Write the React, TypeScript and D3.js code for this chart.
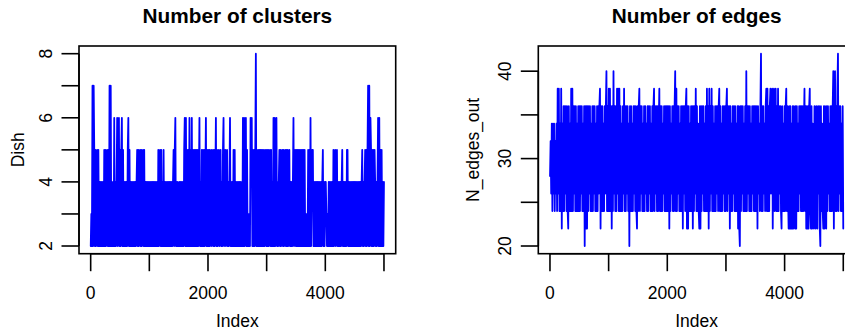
import React, { useEffect, useRef } from 'react'
import * as d3 from 'd3'

// trace of Dish, one value every ~10 iterations (index 1..5000)
const dish: number[] = [
  2,3,2,7,2,7,5,2,5,2, 4,5,2,5,2,4,2,4,2,4, 2,4,2,5,2,5,2,4,5,2, 5,2,7,2,7,2,4,2,4,2, 6,2,4,2,4,6,2,4,6,2,
  5,2,5,6,2,5,2,4,2,4, 2,4,2,5,6,2,5,2,4,2, 4,2,4,2,4,2,4,2,4,5, 2,5,2,4,5,2,5,2,4,5, 2,5,2,4,2,4,2,4,2,4,
  2,4,2,4,2,4,2,4,2,4, 2,4,2,4,2,5,2,4,5,2, 5,2,4,2,5,2,4,2,4,2, 4,2,4,2,4,2,4,2,4,2, 4,5,2,5,6,2,4,2,4,2,
  2,4,2,4,2,4,2,4,2,5, 6,2,6,2,5,2,5,2,6,2, 5,2,6,2,5,2,5,2,5,2, 5,2,5,2,4,6,2,4,2,5, 2,5,2,5,2,4,6,2,5,2,
  5,2,5,2,4,5,2,4,5,2, 5,2,4,6,2,5,2,4,5,2, 4,5,2,4,2,5,6,2,4,5, 2,4,5,2,4,2,4,6,2,4, 2,4,2,5,2,5,2,4,2,4,
  2,4,2,4,2,4,2,4,2,6, 2,6,2,5,6,2,5,2,3,2, 3,2,6,5,6,2,5,2,5,2, 5,8,2,5,2,5,2,5,2,5, 2,5,2,5,2,5,2,4,5,2,
  5,2,5,2,4,5,2,5,2,4, 2,6,2,6,2,5,6,2,4,2, 4,5,2,5,2,4,5,2,5,2, 4,5,2,5,2,5,2,4,5,2, 4,2,4,2,4,6,2,4,5,2,
  5,2,5,2,5,2,5,2,5,2, 5,2,5,2,5,2,3,2,3,2, 5,2,5,2,6,2,4,5,5,2, 4,2,4,2,4,2,4,2,4,2, 4,2,4,2,4,5,2,4,2,4,
  4,3,2,3,2,4,2,4,2,4, 2,4,2,5,2,4,5,2,4,5, 2,4,2,4,2,4,2,4,5,2, 4,2,4,2,4,2,5,5,2,4, 2,4,2,4,2,4,2,4,2,4,
  2,4,2,4,2,4,2,4,2,4, 2,4,5,2,4,2,4,5,2,5, 2,5,7,2,7,2,6,5,2,5, 2,5,2,5,4,2,4,2,4,6, 2,6,2,5,2,5,2,4,2,4,
]

// trace of N_edges_out, same sampling
const nEdgesOut: number[] = [
  28,32,26,34,24,34,26,34,24,32, 26,34,24,38,26,38,24,34,24,38, 22,34,24,36,24,36,26,36,24,36, 24,22,36,24,34,24,38,24,38,24, 36,26,36,24,36,24,34,24,36,24,
  36,24,36,26,36,24,34,24,36,20, 36,22,36,22,36,24,36,26,36,24, 34,24,36,24,36,26,36,24,34,24, 36,24,36,26,36,38,22,36,24,36, 24,34,24,36,26,36,40,24,36,24,
  38,24,38,24,36,22,36,24,40,26, 36,24,36,24,38,26,38,24,38,24, 36,24,34,24,36,26,38,24,36,24, 36,26,36,24,34,20,36,24,36,24, 34,24,36,26,36,24,36,24,22,36,
  24,36,38,24,36,26,36,24,34,24, 36,24,36,26,34,24,36,24,36,26, 36,24,34,24,36,24,36,38,24,36, 26,36,24,36,24,34,38,24,36,24, 36,24,34,26,36,24,36,24,36,24,
  36,24,36,22,36,24,34,26,36,24, 36,24,36,40,24,38,24,36,26,36, 24,34,24,36,24,36,22,36,26,36, 24,36,38,22,36,22,36,24,34,24, 36,24,36,22,36,24,36,26,38,24,
  36,24,34,24,22,36,22,36,24,36, 26,36,24,34,24,36,24,38,24,36, 22,38,24,36,26,38,24,36,24,34, 24,36,24,36,26,36,24,36,38,24, 36,24,34,24,36,26,36,24,36,24,
  36,38,24,36,26,36,22,36,24,34, 24,36,26,36,24,36,24,34,24,36, 22,36,22,20,36,24,36,26,36,24, 34,24,36,24,40,24,36,26,36,24, 36,24,34,24,36,26,36,24,36,24,
  36,24,36,22,36,26,34,24,36,42, 24,36,24,36,26,34,24,36,38,24, 38,24,36,24,36,38,26,36,38,22, 36,38,24,36,38,24,36,24,38,24, 36,26,36,24,22,36,24,34,24,36,
  24,36,38,24,36,26,22,36,22,36, 22,34,22,36,22,36,24,22,36,22, 36,24,34,24,36,26,36,24,36,24, 36,24,34,38,24,36,22,36,22,36, 22,36,38,24,22,36,22,34,24,22,
  36,24,22,36,24,22,36,26,36,22, 20,36,24,34,24,22,36,22,36,24, 22,36,24,36,26,34,24,36,24,36, 24,36,40,22,36,40,24,36,24,38, 42,24,36,26,36,24,34,24,36,22,
]

const xTicks = [0, 1000, 2000, 3000, 4000, 5000]
const xTickLabels = [0, 2000, 4000]
const dishTicks = [2, 3, 4, 5, 6, 7, 8]
const dishTickLabels = [2, 4, 6, 8]
const edgeTicks = [20, 25, 30, 35, 40]
const edgeTickLabels = [20, 30, 40]

function App() {
  const svgRef = useRef<SVGSVGElement>(null)
  const width = 845
  const height = 332
  const font = '"Liberation Sans", Arial, Helvetica, sans-serif'

  useEffect(() => {
    const svg = d3.select(svgRef.current)
    svg.selectAll('*').remove()

    const top = 46
    const bottom = 253.7
    const tickLen = 17.5

    const panels = [
      { values: dish, left: 79, right: 395.7, title: 'Number of clusters', ylab: 'Dish',
        yTicks: dishTicks, yLabels: dishTickLabels, ylabX: 24, tickLabX: 52 },
      { values: nEdgesOut, left: 538.3, right: 855, title: 'Number of edges', ylab: 'N_edges_out',
        yTicks: edgeTicks, yLabels: edgeTickLabels, ylabX: 478.5, tickLabX: 511 },
    ]

    panels.forEach(p => {
      const n = p.values.length
      const index = (i: number) => 1 + (i * 4999) / (n - 1)
      const xPad = 0.04 * 4999
      const x = d3.scaleLinear().domain([1 - xPad, 5000 + xPad]).range([p.left, p.right])
      const lo = d3.min(p.values) as number
      const hi = d3.max(p.values) as number
      const yPad = 0.04 * (hi - lo)
      const y = d3.scaleLinear().domain([lo - yPad, hi + yPad]).range([bottom, top])

      const g = svg.append('g')
      const cx = (p.left + p.right) / 2
      const cy = (top + bottom) / 2

      // trace
      const line = d3.line<number>()
        .x((d, i) => x(index(i)))
        .y(d => y(d))
      g.append('path')
        .attr('d', line(p.values))
        .attr('fill', 'none')
        .attr('stroke', '#0000ff')
        .attr('stroke-width', 1.8)
        .attr('stroke-linejoin', 'round')
        .attr('stroke-linecap', 'round')

      // box
      g.append('rect')
        .attr('x', p.left)
        .attr('y', top)
        .attr('width', p.right - p.left)
        .attr('height', bottom - top)
        .attr('fill', 'none')
        .attr('stroke', 'black')
        .attr('stroke-width', 1.6)

      // x axis
      g.append('line')
        .attr('x1', x(xTicks[0])).attr('x2', x(xTicks[xTicks.length - 1]))
        .attr('y1', bottom).attr('y2', bottom)
        .attr('stroke', 'black').attr('stroke-width', 1.6)
      g.selectAll('.xt').data(xTicks).enter().append('line')
        .attr('x1', d => x(d)).attr('x2', d => x(d))
        .attr('y1', bottom).attr('y2', bottom + tickLen)
        .attr('stroke', 'black').attr('stroke-width', 1.6)
      g.selectAll('.xl').data(xTickLabels).enter().append('text')
        .attr('x', d => x(d)).attr('y', 299)
        .attr('text-anchor', 'middle')
        .attr('font-family', font).attr('font-size', '17.5px')
        .text(d => String(d))

      // y axis
      g.append('line')
        .attr('x1', p.left).attr('x2', p.left)
        .attr('y1', y(p.yTicks[0])).attr('y2', y(p.yTicks[p.yTicks.length - 1]))
        .attr('stroke', 'black').attr('stroke-width', 1.6)
      g.selectAll('.yt').data(p.yTicks).enter().append('line')
        .attr('x1', p.left - tickLen).attr('x2', p.left)
        .attr('y1', d => y(d)).attr('y2', d => y(d))
        .attr('stroke', 'black').attr('stroke-width', 1.6)
      g.selectAll('.yl').data(p.yLabels).enter().append('text')
        .attr('transform', d => `translate(${p.tickLabX},${y(d)}) rotate(-90)`)
        .attr('text-anchor', 'middle')
        .attr('font-family', font).attr('font-size', '17.5px')
        .text(d => String(d))

      // labels
      g.append('text')
        .attr('x', cx).attr('y', 23.3)
        .attr('text-anchor', 'middle')
        .attr('font-family', font).attr('font-size', '20.8px').attr('font-weight', 'bold')
        .text(p.title)
      g.append('text')
        .attr('x', cx).attr('y', 326.5)
        .attr('text-anchor', 'middle')
        .attr('font-family', font).attr('font-size', '17.5px')
        .text('Index')
      g.append('text')
        .attr('transform', `translate(${p.ylabX},${cy}) rotate(-90)`)
        .attr('text-anchor', 'middle')
        .attr('font-family', font).attr('font-size', '17.5px')
        .text(p.ylab)
    })
  }, [])

  return (
    <svg ref={svgRef} width={width} height={height}
      style={{ position: 'absolute', left: 0, top: 0, background: 'white' }} />
  )
}

export default App
